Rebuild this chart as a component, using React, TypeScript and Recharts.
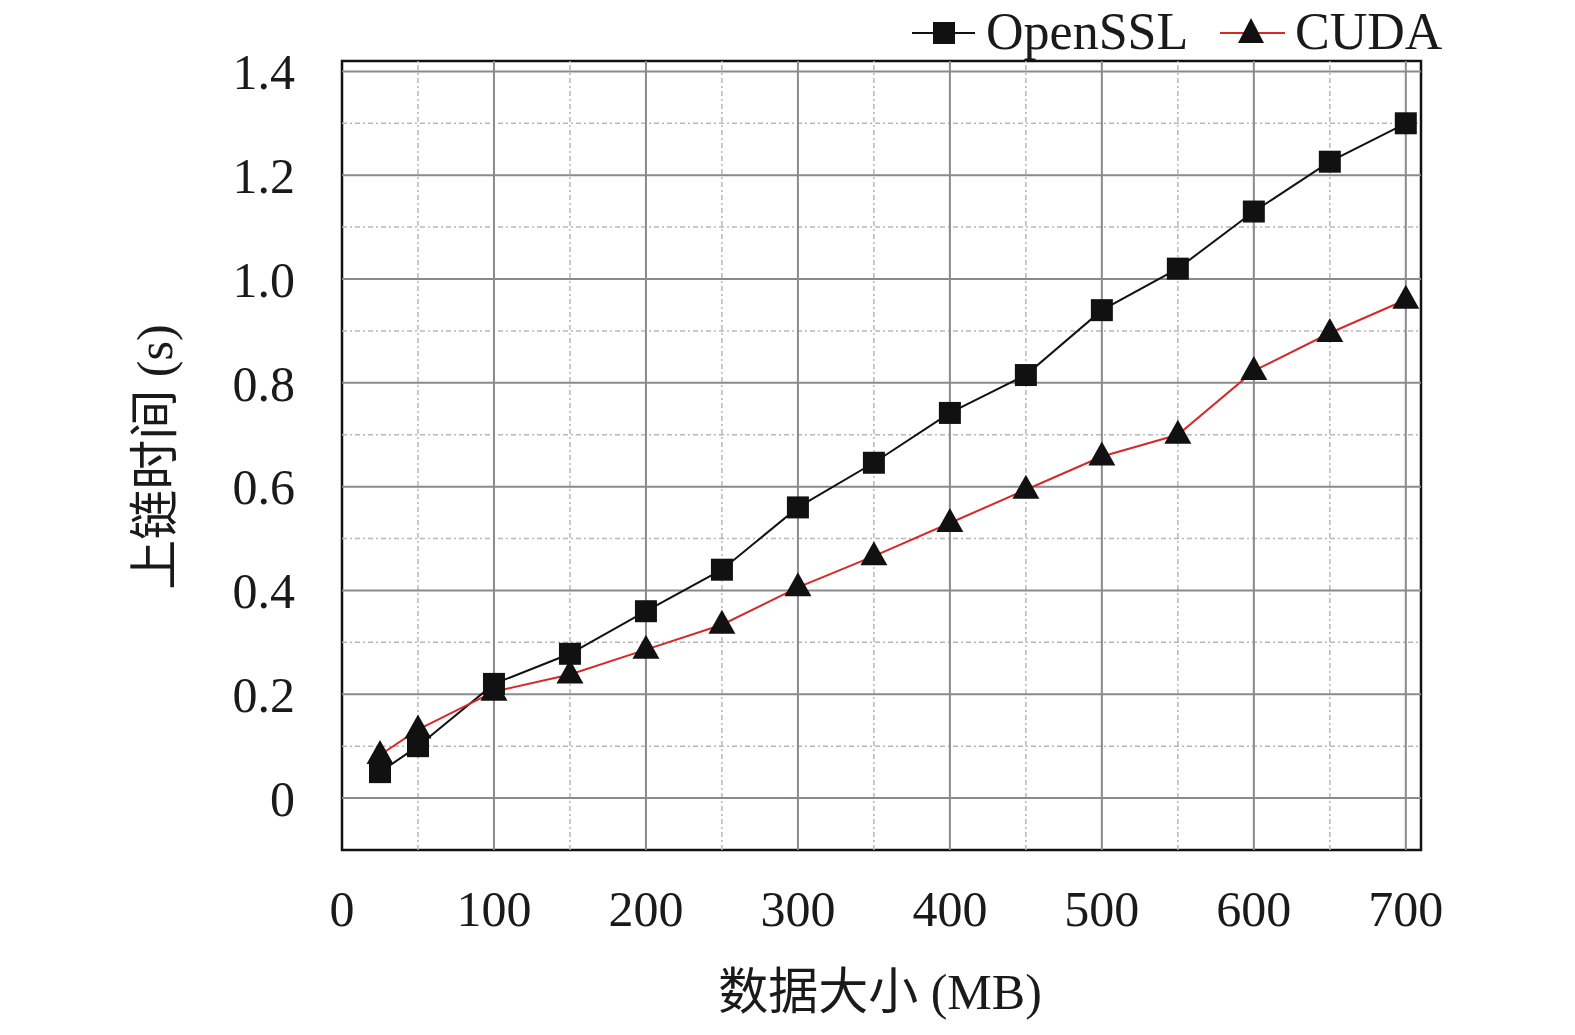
import { LineChart, Line, XAxis, YAxis, ReferenceLine, ReferenceArea, Label } from 'recharts';

const sizes = [25, 50, 100, 150, 200, 250, 300, 350, 400, 450, 500, 550, 600, 650, 700];
const opensslTimes = [0.05, 0.1, 0.22, 0.278, 0.36, 0.44, 0.56, 0.646, 0.742, 0.815, 0.94, 1.02, 1.13, 1.226, 1.3];
const cudaTimes = [0.083, 0.132, 0.205, 0.238, 0.286, 0.334, 0.406, 0.466, 0.53, 0.594, 0.658, 0.7, 0.823, 0.896, 0.96];

const xTicks = [0, 100, 200, 300, 400, 500, 600, 700];
const xMinor = [50, 150, 250, 350, 450, 550, 650];
const yTicks = [0, 0.2, 0.4, 0.6, 0.8, 1.0, 1.2, 1.4];
const yMinor = [0.1, 0.3, 0.5, 0.7, 0.9, 1.1, 1.3];

const data = sizes.map((size, i) => ({ size, openssl: opensslTimes[i], cuda: cudaTimes[i] }));

const FONT = '"Liberation Serif", "Times New Roman", "Noto Sans CJK SC", serif';
const MAJOR = '#8a8a8e';
const MINOR = '#b8b8b8';

const SquareDot = (props: any) => {
  const { cx, cy } = props;
  if (cx == null || cy == null) return null;
  return <rect x={cx - 11} y={cy - 11} width={22} height={22} fill="#111" />;
};

const TriangleDot = (props: any) => {
  const { cx, cy } = props;
  if (cx == null || cy == null) return null;
  return <polygon points={`${cx},${cy - 15} ${cx - 13.5},${cy + 9} ${cx + 13.5},${cy + 9}`} fill="#111" />;
};

// legend drawn as an overlay so it does not shift the plot area
const LegendBox = () => (
  <svg width={580} height={70} style={{ position: 'absolute', left: 897, top: -8, overflow: 'visible' }}>
    <line x1={7} y1={33} x2={70} y2={33} stroke="#111" strokeWidth={2} />
    <rect x={28} y={22} width={22} height={22} fill="#111" />
    <text x={81} y={49} fontSize={52} fontFamily={FONT} fill="#1a1a1a">OpenSSL</text>
    <line x1={315} y1={33} x2={380} y2={33} stroke="#d42a2a" strokeWidth={2} />
    <polygon points="346,18 333,43 359,43" fill="#111" />
    <text x={390} y={49} fontSize={52} fontFamily={FONT} fill="#1a1a1a">CUDA</text>
  </svg>
);

export default function App() {
  return (
    <div style={{ position: 'relative', width: 1559, height: 1019 }}>
      <LineChart width={1559} height={1019} data={data} margin={{ top: 53, right: 146, bottom: 0, left: 0 }}>
        <XAxis
          dataKey="size"
          type="number"
          domain={[0, 710]}
          ticks={xTicks}
          allowDataOverflow
          axisLine={false}
          tickLine={false}
          tickMargin={34}
          height={177}
          tick={{ fontSize: 50, fontFamily: FONT, fill: '#1a1a1a' }}
        >
          <Label
            content={() => (
              <text x={872} y={984} textAnchor="middle" dominantBaseline="central" fontSize={50} fontFamily={FONT} fill="#1a1a1a">
                数据大小 (MB)
              </text>
            )}
          />
        </XAxis>
        <YAxis
          type="number"
          domain={[-0.1, 1.42]}
          ticks={yTicks}
          allowDataOverflow
          axisLine={false}
          tickLine={false}
          tickMargin={41}
          width={334}
          tickFormatter={(v: number) => (v === 0 ? '0' : v.toFixed(1))}
          tick={{ fontSize: 50, fontFamily: FONT, fill: '#1a1a1a' }}
        >
          <Label
            content={() => (
              <text
                x={147}
                y={449}
                transform="rotate(-90 147 449)"
                textAnchor="middle"
                dominantBaseline="central"
                fontSize={50}
                fontFamily={FONT}
                fill="#1a1a1a"
              >
                上链时间 (s)
              </text>
            )}
          />
        </YAxis>
        {xMinor.map((v) => (
          <ReferenceLine key={`xm${v}`} x={v} stroke={MINOR} strokeWidth={1.5} strokeDasharray="5 3 2 3" />
        ))}
        {yMinor.map((v) => (
          <ReferenceLine key={`ym${v}`} y={v} stroke={MINOR} strokeWidth={1.5} strokeDasharray="5 3 2 3" />
        ))}
        {xTicks.filter((v) => v > 0).map((v) => (
          <ReferenceLine key={`x${v}`} x={v} stroke={MAJOR} strokeWidth={2} />
        ))}
        {yTicks.map((v) => (
          <ReferenceLine key={`y${v}`} y={v} stroke={MAJOR} strokeWidth={2} />
        ))}
        <ReferenceArea x1={0} x2={710} y1={-0.1} y2={1.42} fill="none" stroke="#111" strokeWidth={2.5} fillOpacity={0} />
        <Line
          dataKey="openssl"
          stroke="#111"
          strokeWidth={2}
          dot={<SquareDot />}
          activeDot={false}
          isAnimationActive={false}
        />
        <Line
          dataKey="cuda"
          stroke="#d42a2a"
          strokeWidth={2}
          dot={<TriangleDot />}
          activeDot={false}
          isAnimationActive={false}
        />
      </LineChart>
      <LegendBox />
    </div>
  );
}
